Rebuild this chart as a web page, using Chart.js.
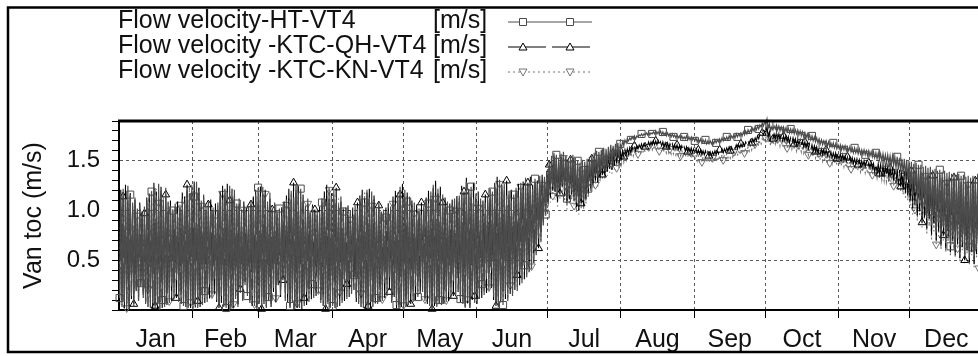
<!DOCTYPE html>
<html>
<head>
<meta charset="utf-8">
<script src="https://cdn.jsdelivr.net/npm/chart.js@4.4.1/dist/chart.umd.min.js"></script>
<style>
  html, body { margin: 0; padding: 0; background: #fff; overflow: hidden; width: 978px; height: 356px; }
  #wrap { position: relative; width: 990px; height: 356px; }
</style>
</head>
<body>
<div id="wrap"><canvas id="chart" width="990" height="356"></canvas></div>
<script>
// ---- Series names and units ----
const seriesNames = ['Flow velocity-HT-VT4', 'Flow velocity -KTC-QH-VT4', 'Flow velocity -KTC-KN-VT4'];
const seriesUnit = '[m/s]';
const axisTitle = 'Van toc (m/s)';

// ---- Calendar: day-of-year where each month starts, and its label ----
const monthNames = ['Jan', 'Feb', 'Mar', 'Apr', 'May', 'Jun', 'Jul', 'Aug', 'Sep', 'Oct', 'Nov', 'Dec'];
const monthStarts = [0, 31, 59, 90, 120, 151, 181, 212, 243, 273, 304, 334, 365];

// ---- Velocity axis ticks (minor every 0.1, labelled every 0.5) ----
const yTickValues = [0, 0.1, 0.2, 0.3, 0.4, 0.5, 0.6, 0.7, 0.8, 0.9, 1.0, 1.1, 1.2, 1.3, 1.4, 1.5, 1.6, 1.7, 1.8, 1.9];
const yTickLabels = { '0.5': '0.5', '1': '1.0', '1.5': '1.5' };

// ---- Daily maximum / minimum flow velocity (m/s), one value per day ----
const htHigh = [
1.18,1.22,1.12,1.25,1.16,1.08,1.13,1.02,1.06,0.98,1.04,1.10,1.07,1.19,1.24,
1.15,1.27,1.20,1.11,1.23,1.09,1.04,1.00,1.07,0.97,1.05,1.12,1.08,1.21,1.17,
1.26,1.14,1.29,1.19,1.10,1.16,1.05,1.09,0.99,1.03,0.96,1.08,1.14,1.11,1.22,
1.18,1.25,1.13,1.21,1.07,1.12,1.01,1.06,0.98,1.04,1.10,1.05,1.16,1.23,1.14,
1.24,1.15,1.09,1.18,1.03,1.08,0.97,1.02,0.95,1.06,1.11,1.07,1.20,1.13,1.26,
1.17,1.22,1.10,1.05,1.12,1.00,1.04,0.96,1.01,0.99,1.08,1.13,1.09,1.23,1.15,
1.20,1.11,1.06,1.14,0.99,1.03,0.95,1.00,0.94,1.05,1.02,1.10,1.16,1.08,1.21,
1.13,1.19,1.07,1.02,1.09,0.97,1.01,0.93,0.99,1.04,1.10,1.06,1.18,1.24,1.12,
1.21,1.09,1.14,1.03,1.08,0.98,1.02,0.96,1.05,1.11,1.07,1.19,1.26,1.15,1.22,
1.10,1.16,1.04,1.09,1.00,1.06,1.12,1.03,1.15,1.21,1.13,1.29,1.18,1.24,1.11,
1.17,1.06,1.12,1.02,1.08,1.14,1.05,1.19,1.25,1.16,1.31,1.22,1.27,1.15,1.20,
1.10,1.16,1.23,1.14,1.28,1.20,1.33,1.25,1.30,1.22,1.32,1.27,1.35,1.29,1.34,1.38,
1.50,1.55,1.58,1.56,1.53,1.57,1.59,1.55,1.52,1.54,1.56,1.53,1.50,1.48,1.51,
1.49,1.52,1.54,1.56,1.58,1.60,1.59,1.61,1.63,1.62,1.64,1.66,1.65,1.67,1.68,1.67,
1.69,1.71,1.72,1.73,1.74,1.75,1.75,1.76,1.77,1.77,1.78,1.79,1.78,1.79,1.80,
1.79,1.80,1.79,1.78,1.78,1.77,1.77,1.76,1.76,1.75,1.75,1.74,1.75,1.74,1.74,1.73,
1.73,1.72,1.72,1.71,1.71,1.70,1.70,1.70,1.71,1.71,1.72,1.73,1.73,1.74,1.75,
1.75,1.76,1.77,1.77,1.78,1.79,1.80,1.81,1.81,1.83,1.84,1.85,1.86,1.88,1.89,1.92,
1.87,1.84,1.85,1.86,1.85,1.84,1.84,1.83,1.83,1.82,1.82,1.81,1.81,1.80,1.79,
1.78,1.77,1.76,1.75,1.74,1.73,1.72,1.71,1.70,1.70,1.69,1.68,1.68,1.67,1.66,
1.66,1.65,1.65,1.64,1.64,1.63,1.63,1.62,1.62,1.61,1.61,1.60,1.60,1.59,1.59,
1.58,1.58,1.57,1.57,1.56,1.56,1.55,1.55,1.54,1.54,1.53,1.52,1.52,1.51,1.50,
1.49,1.47,1.48,1.46,1.46,1.44,1.45,1.43,1.44,1.41,1.42,1.40,1.41,1.39,1.40,1.38,
1.39,1.37,1.38,1.36,1.37,1.35,1.36,1.34,1.35,1.33,1.35,1.34,1.37,1.36,1.39
];
const htLow = [
0.12,0.03,0.08,0.01,0.05,0.14,0.04,0.21,0.09,0.27,0.12,0.06,0.18,0.02,0.07,
0.01,0.05,0.00,0.10,0.03,0.16,0.07,0.24,0.11,0.30,0.08,0.15,0.04,0.09,0.02,
0.06,0.00,0.04,0.02,0.12,0.05,0.19,0.08,0.26,0.13,0.31,0.10,0.05,0.14,0.03,
0.02,0.07,0.01,0.04,0.11,0.03,0.17,0.09,0.25,0.14,0.07,0.20,0.04,0.01,0.06,
0.03,0.09,0.02,0.13,0.06,0.22,0.10,0.28,0.15,0.33,0.09,0.16,0.04,0.08,0.01,
0.05,0.02,0.11,0.04,0.18,0.08,0.26,0.12,0.32,0.17,0.07,0.13,0.03,0.06,0.02,
0.04,0.10,0.03,0.15,0.07,0.23,0.11,0.30,0.16,0.35,0.12,0.06,0.14,0.02,0.05,
0.01,0.08,0.03,0.12,0.06,0.20,0.09,0.27,0.14,0.33,0.10,0.17,0.05,0.02,0.07,
0.03,0.11,0.05,0.17,0.08,0.24,0.13,0.31,0.18,0.09,0.15,0.04,0.02,0.07,0.03,
0.10,0.05,0.16,0.08,0.22,0.12,0.29,0.15,0.36,0.11,0.06,0.02,0.09,0.04,0.13,
0.07,0.18,0.11,0.26,0.15,0.33,0.20,0.40,0.13,0.07,0.03,0.10,0.05,0.16,0.09,
0.22,0.14,0.31,0.19,0.38,0.27,0.45,0.33,0.52,0.41,0.60,0.55,0.72,0.68,0.85,0.96,
1.10,1.18,1.24,1.20,1.14,1.22,1.26,1.19,1.12,1.16,1.21,1.15,1.08,1.05,1.12,
1.10,1.16,1.22,1.27,1.31,1.35,1.33,1.38,1.42,1.40,1.45,1.48,1.47,1.51,1.53,1.52,
1.63,1.66,1.68,1.70,1.71,1.72,1.72,1.74,1.75,1.75,1.76,1.76,1.76,1.77,1.77,
1.77,1.77,1.76,1.76,1.75,1.75,1.74,1.74,1.73,1.73,1.72,1.72,1.72,1.71,1.71,1.71,
1.70,1.69,1.69,1.68,1.68,1.67,1.67,1.67,1.67,1.68,1.69,1.69,1.70,1.71,1.71,
1.72,1.73,1.73,1.74,1.75,1.75,1.76,1.77,1.78,1.79,1.80,1.81,1.82,1.84,1.85,1.87,
1.83,1.80,1.81,1.82,1.81,1.80,1.80,1.79,1.79,1.78,1.78,1.77,1.77,1.76,1.75,
1.74,1.73,1.72,1.71,1.70,1.69,1.68,1.67,1.66,1.66,1.65,1.64,1.64,1.63,1.62,
1.62,1.61,1.61,1.60,1.60,1.59,1.58,1.58,1.57,1.57,1.56,1.56,1.55,1.55,1.54,
1.53,1.52,1.51,1.50,1.49,1.48,1.47,1.46,1.45,1.43,1.41,1.39,1.37,1.34,1.31,
1.22,1.15,1.18,1.06,1.10,0.98,1.04,0.92,0.99,0.85,0.94,0.78,0.88,0.72,0.83,0.69,
0.80,0.64,0.75,0.60,0.72,0.57,0.68,0.54,0.66,0.52,0.63,0.50,0.61,0.48,0.58
];

const qhHigh = [
1.21,1.14,1.26,1.10,1.19,1.05,1.11,0.99,1.08,1.02,0.97,1.13,1.17,1.09,1.28,
1.19,1.13,1.24,1.06,1.16,1.02,1.10,0.96,1.04,1.09,1.01,1.18,1.14,1.26,1.11,
1.20,1.31,1.12,1.23,1.07,1.14,1.00,1.06,1.11,0.98,1.07,1.02,1.19,1.25,1.15,
1.27,1.10,1.22,1.15,1.04,1.09,0.98,1.10,1.03,0.97,1.06,1.14,1.21,1.10,1.26,
1.16,1.21,1.05,1.12,1.01,1.07,0.99,0.96,1.04,1.09,1.15,1.22,1.11,1.28,1.18,
1.25,1.08,1.16,1.02,1.07,0.98,1.06,1.01,0.95,1.04,1.12,1.19,1.26,1.11,1.20,
1.14,1.23,1.03,1.09,1.01,0.97,1.05,0.98,1.03,0.96,1.08,1.15,1.21,1.12,1.18,
1.22,1.10,1.15,1.00,1.05,0.99,0.94,1.03,1.08,1.00,1.14,1.20,1.10,1.16,1.27,
1.13,1.18,1.04,1.10,1.01,1.06,0.99,1.08,1.02,1.13,1.20,1.11,1.23,1.30,1.17,
1.24,1.08,1.13,1.02,1.07,1.11,1.04,1.17,1.09,1.25,1.19,1.33,1.22,1.14,1.28,
1.12,1.19,1.05,1.10,1.16,1.07,1.22,1.13,1.28,1.34,1.21,1.26,1.18,1.30,1.14,
1.21,1.12,1.18,1.27,1.19,1.31,1.24,1.28,1.35,1.26,1.30,1.33,1.28,1.36,1.31,1.40,
1.46,1.52,1.55,1.53,1.49,1.54,1.56,1.52,1.48,1.51,1.53,1.49,1.46,1.44,1.47,
1.45,1.48,1.50,1.52,1.53,1.55,1.54,1.56,1.57,1.56,1.58,1.59,1.58,1.60,1.61,1.60,
1.60,1.61,1.62,1.63,1.64,1.65,1.65,1.66,1.67,1.67,1.68,1.69,1.69,1.70,1.70,
1.70,1.69,1.69,1.68,1.68,1.67,1.67,1.66,1.66,1.65,1.65,1.64,1.64,1.63,1.63,1.62,
1.62,1.61,1.61,1.60,1.60,1.59,1.59,1.59,1.60,1.60,1.61,1.62,1.62,1.63,1.64,
1.64,1.65,1.66,1.66,1.67,1.68,1.69,1.70,1.71,1.72,1.73,1.75,1.76,1.78,1.80,1.84,
1.79,1.76,1.77,1.78,1.77,1.76,1.75,1.75,1.74,1.73,1.73,1.72,1.71,1.71,1.70,
1.69,1.68,1.67,1.66,1.65,1.64,1.63,1.62,1.61,1.61,1.60,1.59,1.58,1.58,1.57,
1.57,1.56,1.55,1.54,1.54,1.53,1.52,1.52,1.51,1.50,1.50,1.49,1.48,1.48,1.47,
1.47,1.47,1.46,1.45,1.45,1.44,1.43,1.43,1.42,1.42,1.41,1.41,1.40,1.40,1.39,
1.40,1.38,1.40,1.37,1.39,1.37,1.39,1.36,1.38,1.35,1.37,1.34,1.36,1.33,1.35,1.32,
1.34,1.31,1.33,1.30,1.32,1.29,1.31,1.28,1.30,1.28,1.31,1.30,1.33,1.32,1.35
];
const qhLow = [
0.05,0.10,0.02,0.07,0.01,0.11,0.06,0.19,0.10,0.24,0.15,0.08,0.03,0.12,0.01,
0.04,0.01,0.08,0.02,0.13,0.05,0.20,0.09,0.27,0.12,0.18,0.06,0.11,0.03,0.06,
0.02,0.05,0.01,0.09,0.03,0.15,0.07,0.23,0.11,0.29,0.16,0.08,0.02,0.07,0.04,
0.06,0.01,0.05,0.02,0.14,0.06,0.21,0.11,0.28,0.17,0.10,0.04,0.13,0.03,0.08,
0.01,0.06,0.04,0.10,0.03,0.18,0.08,0.25,0.13,0.30,0.19,0.07,0.02,0.11,0.04,
0.02,0.07,0.01,0.12,0.05,0.21,0.10,0.28,0.14,0.23,0.09,0.04,0.01,0.08,0.03,
0.06,0.02,0.12,0.04,0.19,0.09,0.26,0.13,0.32,0.20,0.08,0.15,0.03,0.06,0.01,
0.04,0.02,0.09,0.05,0.16,0.08,0.24,0.12,0.30,0.18,0.07,0.13,0.02,0.05,0.03,
0.06,0.03,0.13,0.06,0.21,0.10,0.28,0.15,0.34,0.12,0.05,0.10,0.01,0.04,0.08,
0.03,0.12,0.06,0.19,0.09,0.26,0.14,0.32,0.18,0.08,0.13,0.04,0.07,0.02,0.10,
0.14,0.06,0.21,0.12,0.29,0.17,0.37,0.22,0.10,0.04,0.12,0.06,0.19,0.11,0.24,
0.16,0.28,0.20,0.35,0.25,0.42,0.31,0.49,0.38,0.57,0.47,0.66,0.62,0.78,0.88,0.98,
1.06,1.13,1.20,1.16,1.09,1.17,1.22,1.14,1.07,1.11,1.16,1.10,1.03,1.00,1.07,
1.05,1.11,1.17,1.22,1.26,1.30,1.28,1.33,1.36,1.35,1.39,1.42,1.41,1.45,1.47,1.46,
1.52,1.54,1.56,1.57,1.58,1.60,1.60,1.62,1.63,1.63,1.64,1.65,1.65,1.66,1.66,
1.66,1.65,1.65,1.64,1.64,1.63,1.63,1.62,1.62,1.61,1.61,1.60,1.60,1.59,1.59,1.58,
1.58,1.57,1.57,1.56,1.56,1.55,1.55,1.55,1.56,1.56,1.57,1.58,1.58,1.59,1.60,
1.60,1.61,1.62,1.62,1.63,1.64,1.65,1.66,1.67,1.68,1.69,1.70,1.72,1.74,1.76,1.79,
1.74,1.71,1.72,1.73,1.72,1.71,1.70,1.70,1.69,1.68,1.68,1.67,1.66,1.66,1.65,
1.64,1.63,1.62,1.61,1.60,1.59,1.58,1.57,1.56,1.56,1.55,1.54,1.53,1.53,1.52,
1.52,1.51,1.50,1.49,1.49,1.48,1.47,1.47,1.46,1.45,1.45,1.44,1.43,1.43,1.42,
1.39,1.38,1.37,1.36,1.35,1.34,1.33,1.31,1.30,1.28,1.26,1.24,1.21,1.18,1.15,
1.10,1.02,1.06,0.95,0.99,0.88,0.93,0.82,0.89,0.76,0.84,0.70,0.79,0.65,0.75,0.62,
0.72,0.58,0.69,0.55,0.66,0.52,0.63,0.50,0.60,0.48,0.58,0.46,0.56,0.45,0.54
];

const knHigh = [
1.09,1.17,1.21,1.07,1.15,1.00,1.06,0.95,1.03,0.93,1.00,1.07,1.13,1.20,1.12,
1.22,1.08,1.18,1.13,1.03,1.08,0.97,1.02,0.92,1.00,1.06,1.02,1.14,1.19,1.23,
1.11,1.20,1.16,1.24,1.05,1.10,0.98,1.03,0.94,1.00,0.95,1.05,1.09,1.17,1.21,
1.13,1.19,1.06,1.14,1.00,1.05,0.95,1.01,0.93,1.02,1.07,1.13,1.08,1.18,1.22,
1.10,1.17,1.04,1.10,0.98,1.03,0.94,0.99,0.92,1.01,1.06,1.12,1.17,1.09,1.21,
1.13,1.18,1.05,1.00,1.07,0.96,1.00,0.92,0.97,0.94,1.04,1.10,1.15,1.21,1.11,
1.16,1.07,1.12,0.99,1.04,0.94,0.99,0.91,0.96,1.01,0.98,1.06,1.12,1.18,1.09,
1.15,1.05,1.11,0.98,1.03,0.93,0.97,0.90,0.96,1.01,1.07,1.03,1.13,1.19,1.22,
1.08,1.15,1.02,1.07,0.97,1.01,0.94,1.03,0.99,1.08,1.04,1.15,1.21,1.12,1.18,
1.06,1.12,1.01,1.05,0.98,1.03,1.09,1.00,1.12,1.18,1.10,1.24,1.15,1.21,1.08,
1.14,1.03,1.09,1.00,1.05,1.11,1.03,1.16,1.22,1.13,1.27,1.19,1.24,1.12,1.17,
1.07,1.13,1.20,1.11,1.24,1.17,1.29,1.22,1.27,1.19,1.29,1.24,1.31,1.26,1.31,1.35,
1.42,1.48,1.52,1.50,1.46,1.51,1.53,1.49,1.45,1.48,1.50,1.46,1.43,1.41,1.44,
1.42,1.44,1.46,1.48,1.49,1.51,1.50,1.52,1.53,1.52,1.54,1.55,1.54,1.56,1.57,1.56,
1.56,1.57,1.58,1.59,1.60,1.60,1.61,1.61,1.62,1.62,1.63,1.64,1.64,1.65,1.65,
1.65,1.64,1.64,1.63,1.63,1.62,1.62,1.61,1.61,1.60,1.60,1.59,1.59,1.58,1.58,1.57,
1.56,1.55,1.55,1.54,1.54,1.53,1.53,1.53,1.54,1.54,1.55,1.56,1.56,1.57,1.58,
1.58,1.59,1.60,1.60,1.61,1.62,1.63,1.64,1.65,1.66,1.67,1.69,1.70,1.72,1.74,1.79,
1.74,1.71,1.72,1.73,1.72,1.71,1.70,1.70,1.69,1.68,1.68,1.67,1.66,1.66,1.65,
1.64,1.63,1.62,1.61,1.60,1.59,1.58,1.57,1.56,1.56,1.55,1.54,1.53,1.53,1.52,
1.52,1.51,1.50,1.49,1.49,1.48,1.47,1.47,1.46,1.45,1.45,1.44,1.43,1.43,1.42,
1.42,1.41,1.41,1.40,1.40,1.39,1.38,1.38,1.37,1.37,1.36,1.36,1.35,1.35,1.34,
1.36,1.34,1.36,1.33,1.35,1.33,1.35,1.32,1.34,1.31,1.33,1.30,1.32,1.29,1.31,1.28,
1.30,1.27,1.29,1.26,1.28,1.25,1.27,1.24,1.26,1.24,1.27,1.26,1.29,1.28,1.31
];
const knLow = [
0.16,0.05,0.11,0.02,0.08,0.17,0.06,0.24,0.12,0.30,0.15,0.08,0.21,0.04,0.09,
0.03,0.07,0.01,0.12,0.05,0.19,0.09,0.27,0.14,0.33,0.11,0.18,0.06,0.11,0.03,
0.08,0.02,0.06,0.03,0.14,0.07,0.22,0.10,0.29,0.16,0.34,0.13,0.07,0.17,0.05,
0.03,0.09,0.02,0.06,0.13,0.05,0.20,0.11,0.28,0.17,0.09,0.23,0.06,0.02,0.08,
0.05,0.11,0.03,0.15,0.08,0.25,0.12,0.31,0.18,0.36,0.11,0.19,0.06,0.10,0.02,
0.07,0.03,0.13,0.06,0.21,0.10,0.29,0.14,0.35,0.20,0.09,0.16,0.05,0.08,0.03,
0.06,0.12,0.05,0.18,0.09,0.26,0.13,0.33,0.19,0.38,0.14,0.08,0.17,0.03,0.07,
0.02,0.10,0.04,0.14,0.08,0.23,0.11,0.30,0.17,0.36,0.12,0.20,0.07,0.03,0.09,
0.05,0.13,0.07,0.20,0.10,0.27,0.15,0.34,0.21,0.11,0.18,0.06,0.03,0.09,0.05,
0.12,0.07,0.19,0.10,0.25,0.14,0.32,0.18,0.39,0.13,0.08,0.03,0.11,0.06,0.15,
0.09,0.21,0.13,0.29,0.18,0.36,0.23,0.43,0.16,0.09,0.05,0.12,0.07,0.19,0.11,
0.25,0.17,0.34,0.22,0.41,0.30,0.48,0.36,0.55,0.44,0.62,0.57,0.74,0.70,0.86,0.93,
1.00,1.08,1.15,1.11,1.04,1.12,1.17,1.09,1.01,1.06,1.11,1.05,0.98,0.96,1.02,
1.01,1.07,1.13,1.18,1.22,1.26,1.24,1.29,1.32,1.31,1.35,1.38,1.37,1.41,1.43,1.42,
1.47,1.49,1.51,1.53,1.54,1.55,1.56,1.57,1.58,1.58,1.59,1.60,1.60,1.61,1.61,
1.60,1.60,1.59,1.59,1.58,1.58,1.57,1.57,1.56,1.56,1.55,1.55,1.54,1.54,1.53,1.53,
1.51,1.50,1.50,1.49,1.49,1.48,1.48,1.48,1.49,1.49,1.50,1.51,1.51,1.52,1.53,
1.53,1.54,1.55,1.55,1.56,1.57,1.58,1.59,1.60,1.61,1.62,1.64,1.65,1.67,1.69,1.73,
1.68,1.65,1.66,1.67,1.66,1.65,1.64,1.64,1.63,1.62,1.62,1.61,1.60,1.60,1.59,
1.58,1.57,1.56,1.55,1.54,1.53,1.52,1.51,1.50,1.50,1.49,1.48,1.47,1.47,1.46,
1.46,1.45,1.44,1.43,1.43,1.42,1.41,1.41,1.40,1.39,1.39,1.38,1.37,1.37,1.36,
1.34,1.33,1.32,1.31,1.30,1.29,1.28,1.26,1.25,1.23,1.21,1.19,1.16,1.13,1.10,
1.05,0.96,1.01,0.90,0.94,0.83,0.88,0.77,0.84,0.71,0.79,0.66,0.74,0.61,0.70,0.58,
0.68,0.55,0.65,0.52,0.62,0.49,0.60,0.47,0.57,0.45,0.55,0.43,0.53,0.42,0.51
];

// Each day is drawn as its low and its high, half a day apart.
function dailySwing(lows, highs) {
  const pts = [];
  for (let d = 0; d < lows.length; d++) {
    pts.push({ x: d + 0.25, y: lows[d] });
    pts.push({ x: d + 0.75, y: highs[d] });
  }
  return pts;
}

const FONT = '"Liberation Sans", Arial, sans-serif';
const monthMids = monthStarts.slice(0, 12).map((s, i) => (s + monthStarts[i + 1]) / 2);
const xTickValues = monthStarts.concat(monthMids).sort((a, b) => a - b);
const isMonthStart = v => monthStarts.indexOf(v) >= 0;
const isMajorY = v => v > 0 && v < 1.85 && Math.abs(v * 2 - Math.round(v * 2)) < 1e-6;

const styles = [
  { color: '#4c4c4c', dash: [], width: 1.2, marker: 'rect', radius: 5, rot: 0, every: 0 },
  { color: '#000000', dash: [38, 6], width: 1.1, marker: 'triangle', radius: 4.5, rot: 0, every: 3 },
  { color: '#747474', dash: [2, 3], width: 1.2, marker: 'triangle', radius: 4.5, rot: 180, every: 6 }
];
const seriesData = [dailySwing(htLow, htHigh), dailySwing(qhLow, qhHigh), dailySwing(knLow, knHigh)];

// Outer frame, thick plot top edge
const framePlugin = {
  id: 'frame',
  beforeDraw(chart) {
    const c = chart.ctx;
    c.save();
    c.fillStyle = '#fff';
    c.fillRect(0, 0, chart.width, chart.height);
    c.restore();
  },
  afterDraw(chart) {
    const c = chart.ctx, a = chart.chartArea;
    c.save();
    c.strokeStyle = '#000';
    c.lineWidth = 2.5;
    c.strokeRect(8, 7.5, chart.width + 20, 344.5);
    c.lineWidth = 3;
    c.beginPath();
    c.moveTo(a.left - 1, a.top);
    c.lineTo(a.right + 5, a.top);
    c.stroke();
    c.restore();
  }
};

// Series key drawn above the plot: name, unit column, line sample with two markers
function keyMarker(c, kind, x, y, rot) {
  c.beginPath();
  if (kind === 'rect') {
    c.rect(x - 3.5, y - 3.5, 7, 7);
  } else if (rot === 180) {
    c.moveTo(x, y + 4); c.lineTo(x - 4, y - 3); c.lineTo(x + 4, y - 3); c.closePath();
  } else {
    c.moveTo(x, y - 4); c.lineTo(x - 4, y + 3); c.lineTo(x + 4, y + 3); c.closePath();
  }
  c.fillStyle = '#fff';
  c.fill();
  c.stroke();
}
const keyPlugin = {
  id: 'seriesKey',
  afterDraw(chart) {
    const c = chart.ctx;
    const rowY = [21, 46, 71];
    c.save();
    c.textBaseline = 'middle';
    seriesNames.forEach((name, i) => {
      const y = rowY[i];
      const st = styles[i];
      c.font = '25px ' + FONT;
      c.fillStyle = '#111';
      c.fillText(name, 118, y);
      c.fillText(seriesUnit, 433, y);
      c.strokeStyle = st.color;
      c.lineWidth = 1;
      c.setLineDash(st.dash);
      c.beginPath();
      c.moveTo(508, y + 1);
      c.lineTo(592, y + 1);
      c.stroke();
      c.setLineDash([]);
      keyMarker(c, st.marker, 523, y + 1, st.rot);
      keyMarker(c, st.marker, 570, y + 1, st.rot);
    });
    c.restore();
  }
};

new Chart(document.getElementById('chart'), {
  type: 'line',
  data: {
    datasets: seriesData.map((pts, i) => ({
      label: seriesNames[i],
      data: pts,
      borderColor: styles[i].color,
      borderWidth: styles[i].width,
      borderDash: styles[i].dash,
      pointStyle: styles[i].marker,
      pointRotation: styles[i].rot,
      pointRadius: ctx => (ctx.dataIndex % 9 === styles[i].every ? styles[i].radius : 0),
      pointBorderColor: styles[i].color,
      pointBackgroundColor: 'rgba(255,255,255,0)',
      pointBorderWidth: 1,
      tension: 0,
      clip: 6
    }))
  },
  options: {
    responsive: false,
    animation: false,
    events: [],
    layout: { padding: { top: 121, left: 0, right: 7, bottom: 0 } },
    plugins: { legend: { display: false }, tooltip: { enabled: false }, title: { display: false } },
    scales: {
      x: {
        type: 'linear',
        min: 0,
        max: 365,
        afterBuildTicks: s => { s.ticks = xTickValues.map(v => ({ value: v })); },
        afterFit: s => { s.height = 46; },
        grid: {
          color: ctx => (ctx.tick && isMonthStart(ctx.tick.value) && ctx.tick.value > 0 && ctx.tick.value < 365 ? '#5a5a5a' : 'rgba(0,0,0,0)'),
          tickColor: ctx => (ctx.tick && isMonthStart(ctx.tick.value) && ctx.tick.value > 0 ? '#000' : 'rgba(0,0,0,0)'),
          lineWidth: 1,
          tickLength: 8,
          tickWidth: 1
        },
        border: { display: true, color: '#000', width: 2, dash: [3, 3] },
        ticks: {
          autoSkip: false,
          maxRotation: 0,
          padding: 7,
          color: '#111',
          font: { family: FONT, size: 25 },
          callback: v => { const k = monthMids.indexOf(v); return k >= 0 ? monthNames[k] : ''; }
        }
      },
      y: {
        min: 0,
        max: 1.9,
        afterBuildTicks: s => { s.ticks = yTickValues.map(v => ({ value: v })); },
        afterFit: s => { s.width = 119; },
        grid: {
          color: ctx => (ctx.tick && isMajorY(ctx.tick.value) ? '#5a5a5a' : 'rgba(0,0,0,0)'),
          tickColor: '#000',
          lineWidth: 1,
          tickLength: 7,
          tickWidth: 1
        },
        border: { display: true, color: '#000', width: 2, dash: [3, 3] },
        ticks: {
          autoSkip: false,
          padding: 12,
          color: '#111',
          font: { family: FONT, size: 24 },
          callback: v => { const key = String(Math.round(v * 10) / 10); return isMajorY(v) ? yTickLabels[key] : ''; }
        },
        title: {
          display: true,
          text: axisTitle,
          color: '#111',
          font: { family: FONT, size: 25 },
          padding: { top: 19, bottom: 0 }
        }
      }
    }
  },
  plugins: [framePlugin, keyPlugin]
});
</script>
</body>
</html>
